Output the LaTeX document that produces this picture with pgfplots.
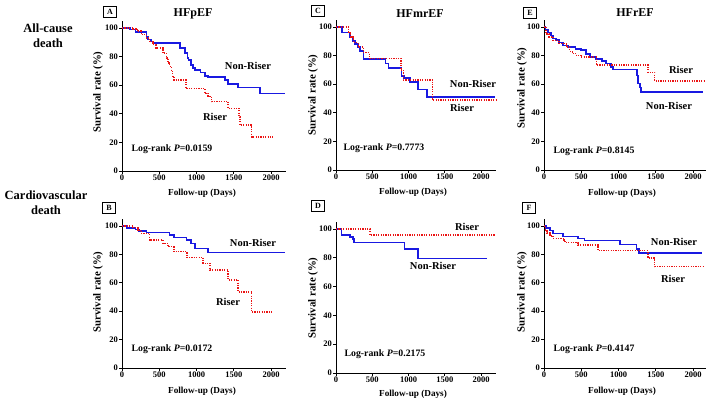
\documentclass[border=0pt]{standalone}
\usepackage{fontspec}
\setmainfont{Liberation Serif}
\usepackage{pgfplots}
\pgfplotsset{compat=1.18}
\definecolor{kmblue}{RGB}{25,25,225}
\definecolor{kmred}{RGB}{235,20,20}
\newcommand{\tk}{\fontsize{8.5}{10}\selectfont\bfseries}
\newcommand{\lb}{\fontsize{10.5}{12}\selectfont\bfseries}
\newcommand{\xl}{\fontsize{9.2}{11}\selectfont\bfseries}
\newcommand{\yl}{\fontsize{10.8}{12}\selectfont\bfseries}
\newcommand{\lr}{\fontsize{9.8}{12}\selectfont\bfseries}
\newcommand{\ti}{\fontsize{12}{14}\selectfont\bfseries}
\newcommand{\rl}{\fontsize{12.5}{15}\selectfont\bfseries}
\pgfplotsset{
  km/.style={
    scale only axis, anchor=south west,
    axis lines=left, axis line style={-, line width=0.8pt, black},
    xmin=0, ymin=0, ymax=105,
    xtick={0,500,1000,1500,2000}, ytick={0,20,40,60,80,100},
    tick align=outside, major tick length=3pt,
    every tick/.style={black, line width=0.8pt},
    ticklabel style={font=\tk, inner sep=1pt},
    /pgf/number format/assume math mode=true,
    /pgf/number format/1000 sep={},
    clip=false,
  },
  nr/.style={const plot, kmblue, line width=1.6pt, no markers},
  rs/.style={const plot, kmred, line width=1.5pt, no markers, dash pattern=on 1.2pt off 1.2pt},
}
\begin{document}
\begin{tikzpicture}
\path[use as bounding box] (0,0) rectangle (709pt,-401pt);
% Panel A
\begin{axis}[km, at={(122pt,-171pt)}, width=163.9pt, height=150.2pt, xmax=2200]
\addplot[nr] coordinates {(0,100)(110,98.8)(180,97.2)(330,94)(350,92)(390,90.6)(420,89.5)(776,86)(843,82.4)(880,79)(890,77.7)(930,74)(950,72)(980,70.7)(1054,68.9)(1112,66.5)(1157,65.6)(1381,63.7)(1426,60.9)(1560,58.3)(1852,54.3)(2190,54.3)};
\addplot[rs] coordinates {(0,100)(148,99.3)(206,97.7)(260,95.3)(327,93)(372,90.7)(417,88.3)(453,86)(551,82.4)(596,79)(619,75.4)(640,73)(665,69.6)(680,66)(695,63.7)(856,57.8)(1112,54.3)(1157,52)(1202,48.5)(1426,43.8)(1570,37.9)(1583,32.1)(1740,23.9)(2022,23.9)};
\end{axis}
% Panel C
\begin{axis}[km, at={(336pt,-170pt)}, width=159.5pt, height=150.2pt, xmax=2200]
\addplot[nr] coordinates {(0,100)(80,96)(190,93)(230,90)(260,88)(300,86)(330,83)(380,77.5)(680,74.5)(722,71.4)(906,65.6)(938,64.4)(1021,61.6)(1127,56.3)(1251,51.2)(2193,51.2)};
\addplot[rs] coordinates {(0,100)(170,96)(202,93)(240,89)(308,86)(377,82)(460,78)(897,70)(929,63)(1333,48.8)(2216,48.8)};
\end{axis}
% Panel E
\begin{axis}[km, at={(544pt,-170pt)}, width=161.7pt, height=150.2pt, xmax=2170]
\addplot[nr] coordinates {(0,100)(20,98)(50,96)(90,94)(120,92)(160,91)(200,89)(255,87)(330,86)(420,84.5)(500,83.7)(560,81)(620,79)(700,77.5)(780,76)(835,74.4)(900,72)(926,70.2)(1250,66)(1265,60.5)(1285,57.7)(1300,54.7)(2134,54.7)};
\addplot[rs] coordinates {(0,100)(30,95)(70,93)(120,90.7)(200,88.4)(300,86)(345,83)(380,81.4)(435,80)(500,79)(702,73.3)(1398,68.2)(1486,62.3)(2156,62.3)};
\end{axis}
% Panel B
\begin{axis}[km, at={(122pt,-368pt)}, width=163.9pt, height=149.1pt, xmax=2200]
\addplot[nr] coordinates {(0,100)(60,98.8)(180,97.5)(230,96.5)(330,95.5)(640,93.6)(695,91.8)(865,90)(930,87.6)(977,84.2)(1157,81.2)(2188,81.2)};
\addplot[rs] coordinates {(0,100)(150,98.8)(215,97)(260,94.8)(372,90)(550,87.6)(620,85.4)(695,81.9)(870,77.9)(1090,73.6)(1180,68.9)(1425,61.9)(1560,53.6)(1740,39.5)(2022,39.5)};
\end{axis}
% Panel D
\begin{axis}[km, at={(336pt,-373pt)}, width=159.5pt, height=151.2pt, xmax=2200]
\addplot[nr] coordinates {(0,100)(78,96)(195,94.5)(235,93)(250,90.7)(947,86)(1130,79.5)(2078,79.5)};
\addplot[rs] coordinates {(0,100)(467,96)(2192,96)};
\end{axis}
% Panel F
\begin{axis}[km, at={(544pt,-368pt)}, width=161.7pt, height=149.1pt, xmax=2170]
\addplot[nr] coordinates {(0,100)(30,98.4)(80,96.7)(120,94.8)(255,92.5)(456,91.3)(546,89.7)(1016,87.1)(1239,83.6)(1271,80.8)(2125,80.8)};
\addplot[rs] coordinates {(0,100)(20,96.5)(40,95)(80,93)(120,91.3)(270,89)(300,88.3)(456,86.6)(725,82.7)(1396,77.3)(1485,71.4)(2156,71.4)};
\end{axis}
% panel letters
\foreach \p/\x/\y in {A/110/11.5, C/318/11, E/530/13, B/109/208, D/318/206, F/529/208}{
  \node[draw, line width=0.6pt, minimum width=13pt, minimum height=11pt, inner sep=0pt, font=\fontsize{8}{9}\selectfont\bfseries] at (\x pt,-\y pt) {\p};
}
% titles
\node[font=\ti] at (193pt,-14pt) {HFpEF};
\node[font=\ti] at (420pt,-14pt) {HFmrEF};
\node[font=\ti] at (635pt,-13pt) {HFrEF};
% row labels
\node[font=\rl, align=center] at (48pt,-35.5pt) {All-cause\\death};
\node[font=\rl, align=center] at (46pt,-202.5pt) {Cardiovascular\\death};
% y labels
\foreach \x/\y in {98/92, 313/95, 522/88, 98/292, 313/298, 522/292}{
  \node[font=\yl, rotate=90] at (\x pt,-\y pt) {Survival rate (\%)};
}
% x labels
\foreach \x/\y in {202/193, 413/192, 622/193, 202/391, 413/394, 622/391}{
  \node[font=\xl] at (\x pt,-\y pt) {Follow-up (Days)};
}
% curve labels
\node[font=\lb] at (248pt,-66pt) {Non-Riser};
\node[font=\lb] at (215pt,-117pt) {Riser};
\node[font=\lr] at (172pt,-149pt) {Log-rank \textit{P}=0.0159};
\node[font=\lb] at (473pt,-84pt) {Non-Riser};
\node[font=\lb] at (462pt,-108pt) {Riser};
\node[font=\lr] at (384pt,-148pt) {Log-rank \textit{P}=0.7773};
\node[font=\lb] at (681pt,-70pt) {Riser};
\node[font=\lb] at (669pt,-106pt) {Non-Riser};
\node[font=\lr] at (594pt,-151pt) {Log-rank \textit{P}=0.8145};
\node[font=\lb] at (253pt,-243pt) {Non-Riser};
\node[font=\lb] at (228pt,-302pt) {Riser};
\node[font=\lr] at (172pt,-349pt) {Log-rank \textit{P}=0.0172};
\node[font=\lb] at (467pt,-227pt) {Riser};
\node[font=\lb] at (433pt,-266pt) {Non-Riser};
\node[font=\lr] at (385pt,-354pt) {Log-rank \textit{P}=0.2175};
\node[font=\lb] at (674pt,-242pt) {Non-Riser};
\node[font=\lb] at (673pt,-279pt) {Riser};
\node[font=\lr] at (594pt,-349pt) {Log-rank \textit{P}=0.4147};
\end{tikzpicture}
\end{document}
